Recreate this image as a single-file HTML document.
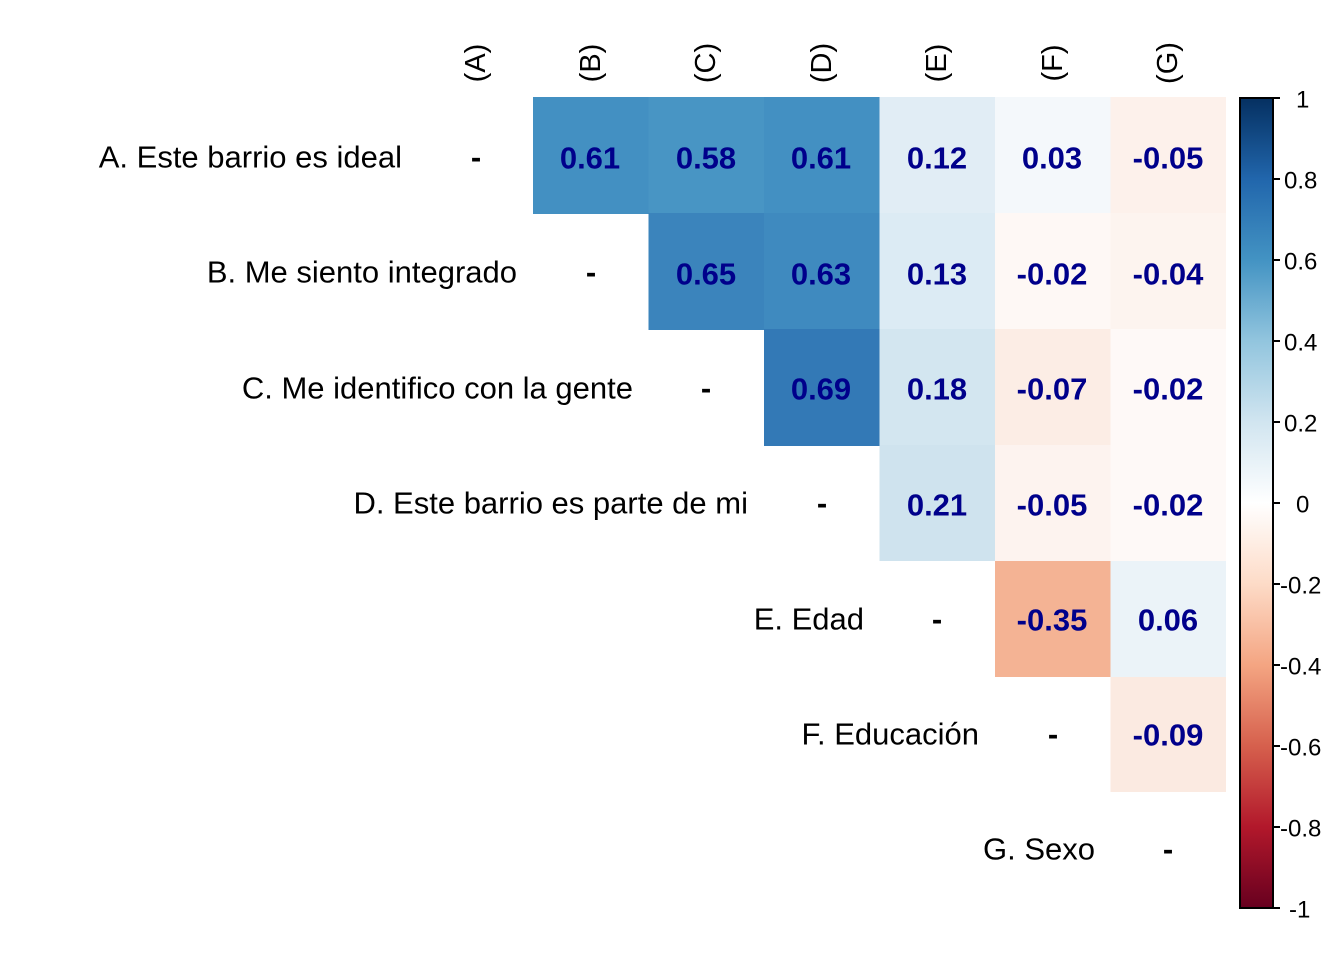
<!DOCTYPE html>
<html><head><meta charset="utf-8"><style>
html,body{margin:0;padding:0;background:#fff;}
svg{display:block;font-family:"Liberation Sans",Arial,sans-serif;}
.v{font-weight:bold;font-size:31px;fill:#00008b;text-anchor:middle;dominant-baseline:central;}
.l{font-size:31px;fill:#000;text-anchor:end;dominant-baseline:central;}
.d{font-size:31px;fill:#000;text-anchor:middle;dominant-baseline:central;font-weight:bold;}
.h{font-size:29px;fill:#000;text-anchor:middle;dominant-baseline:central;}
.t{font-size:24px;fill:#000;dominant-baseline:central;}
</style></head><body>
<svg width="1344" height="960" viewBox="0 0 1344 960">
<defs>
<linearGradient id="g" x1="0" y1="1" x2="0" y2="0">
<stop offset="0" stop-color="#67001f"/><stop offset="0.1" stop-color="#b2182b"/>
<stop offset="0.2" stop-color="#d6604d"/><stop offset="0.3" stop-color="#f4a582"/>
<stop offset="0.4" stop-color="#fddbc7"/><stop offset="0.5" stop-color="#ffffff"/>
<stop offset="0.6" stop-color="#d1e5f0"/><stop offset="0.7" stop-color="#92c5de"/>
<stop offset="0.8" stop-color="#4393c3"/><stop offset="0.9" stop-color="#2166ac"/>
<stop offset="1" stop-color="#053061"/>
</linearGradient>
</defs>
<g>
<rect x="533" y="97" width="116" height="117" fill="#4390c2"/>
<rect x="648.5" y="97" width="116" height="117" fill="#4895c4"/>
<rect x="764" y="97" width="116" height="117" fill="#4390c2"/>
<rect x="879.5" y="97" width="116" height="117" fill="#e1edf5"/>
<rect x="995" y="97" width="116" height="117" fill="#f4f8fb"/>
<rect x="1110.5" y="97" width="115.5" height="117" fill="#fdf1eb"/>

<rect x="648.5" y="213" width="116" height="117" fill="#3b84bc"/>
<rect x="764" y="213" width="116" height="117" fill="#3f8abf"/>
<rect x="879.5" y="213" width="116" height="117" fill="#dcebf4"/>
<rect x="995" y="213" width="116" height="117" fill="#fef8f5"/>
<rect x="1110.5" y="213" width="115.5" height="117" fill="#fdf4ef"/>

<rect x="764" y="329" width="116" height="117" fill="#3379b6"/>
<rect x="879.5" y="329" width="116" height="117" fill="#d3e6f0"/>
<rect x="995" y="329" width="116" height="117" fill="#fcede5"/>
<rect x="1110.5" y="329" width="115.5" height="117" fill="#fef9f7"/>

<rect x="879.5" y="445" width="116" height="116" fill="#cfe3ee"/>
<rect x="995" y="445" width="116" height="117" fill="#fdf3ef"/>
<rect x="1110.5" y="445" width="115.5" height="117" fill="#fef9f7"/>

<rect x="995" y="561" width="116" height="116" fill="#f4b394"/>
<rect x="1110.5" y="561" width="115.5" height="117" fill="#ebf3f8"/>

<rect x="1110.5" y="677" width="115.5" height="115" fill="#fbeae1"/>
</g>
<g>
<text class="h" transform="translate(476,63) rotate(-90)">(A)</text>
<text class="h" transform="translate(591,63) rotate(-90)">(B)</text>
<text class="h" transform="translate(706,63) rotate(-90)">(C)</text>
<text class="h" transform="translate(822,63) rotate(-90)">(D)</text>
<text class="h" transform="translate(937,63) rotate(-90)">(E)</text>
<text class="h" transform="translate(1053,63) rotate(-90)">(F)</text>
<text class="h" transform="translate(1168,63) rotate(-90)">(G)</text>
</g>
<text class="l" x="402" y="157">A. Este barrio es ideal</text>
<text class="l" x="517" y="272">B. Me siento integrado</text>
<text class="l" x="633" y="388">C. Me identifico con la gente</text>
<text class="l" x="748" y="503">D. Este barrio es parte de mi</text>
<text class="l" x="864" y="619">E. Edad</text>
<text class="l" x="979" y="734">F. Educación</text>
<text class="l" x="1095" y="849">G. Sexo</text>
<text class="d" x="476" y="157">-</text>
<text class="d" x="591" y="272">-</text>
<text class="d" x="706" y="388">-</text>
<text class="d" x="822" y="503">-</text>
<text class="d" x="937" y="619">-</text>
<text class="d" x="1053" y="734">-</text>
<text class="d" x="1168" y="849">-</text>
<text class="v" x="590" y="158">0.61</text>
<text class="v" x="706" y="158">0.58</text>
<text class="v" x="821" y="158">0.61</text>
<text class="v" x="937" y="158">0.12</text>
<text class="v" x="1052" y="158">0.03</text>
<text class="v" x="1168" y="158">-0.05</text>
<text class="v" x="706" y="274">0.65</text>
<text class="v" x="821" y="274">0.63</text>
<text class="v" x="937" y="274">0.13</text>
<text class="v" x="1052" y="274">-0.02</text>
<text class="v" x="1168" y="274">-0.04</text>
<text class="v" x="821" y="389">0.69</text>
<text class="v" x="937" y="389">0.18</text>
<text class="v" x="1052" y="389">-0.07</text>
<text class="v" x="1168" y="389">-0.02</text>
<text class="v" x="937" y="505">0.21</text>
<text class="v" x="1052" y="505">-0.05</text>
<text class="v" x="1168" y="505">-0.02</text>
<text class="v" x="1052" y="620">-0.35</text>
<text class="v" x="1168" y="620">0.06</text>
<text class="v" x="1168" y="735">-0.09</text>
<rect x="1240" y="98" width="33" height="810" fill="url(#g)" stroke="#000" stroke-width="2"/>
<g stroke="#000" stroke-width="2">
<line x1="1273" y1="98" x2="1280" y2="98"/><line x1="1273" y1="179" x2="1280" y2="179"/>
<line x1="1273" y1="260" x2="1280" y2="260"/><line x1="1273" y1="341" x2="1280" y2="341"/>
<line x1="1273" y1="422" x2="1280" y2="422"/><line x1="1273" y1="503" x2="1280" y2="503"/>
<line x1="1273" y1="584" x2="1280" y2="584"/><line x1="1273" y1="665" x2="1280" y2="665"/>
<line x1="1273" y1="746" x2="1280" y2="746"/><line x1="1273" y1="827" x2="1280" y2="827"/>
<line x1="1273" y1="908" x2="1280" y2="908"/>
</g>
<g>
<text class="t" x="1296" y="100">1</text>
<text class="t" x="1284" y="181">0.8</text>
<text class="t" x="1284" y="262">0.6</text>
<text class="t" x="1284" y="343">0.4</text>
<text class="t" x="1284" y="424">0.2</text>
<text class="t" x="1296" y="505">0</text>
<text class="t" x="1280" y="586">-0.2</text>
<text class="t" x="1280" y="667">-0.4</text>
<text class="t" x="1280" y="748">-0.6</text>
<text class="t" x="1280" y="829">-0.8</text>
<text class="t" x="1289" y="910">-1</text>
</g>
</svg>
</body></html>
